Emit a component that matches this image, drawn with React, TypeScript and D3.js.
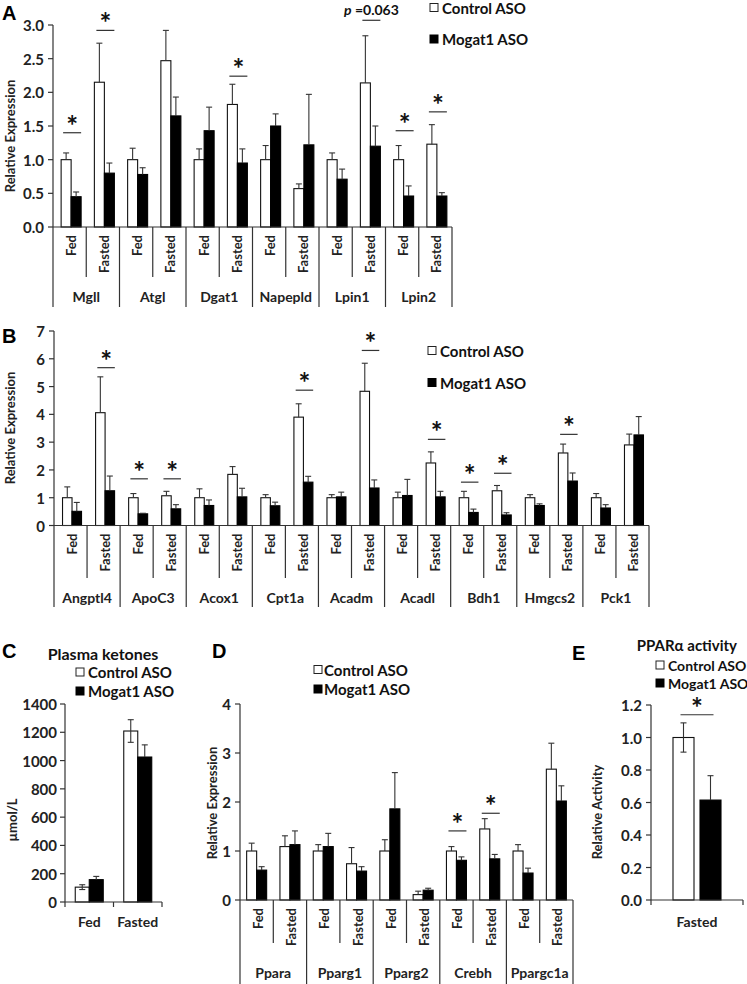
import React from "react";
import * as d3 from "d3";

const FONT = "Lato, 'Open Sans', sans-serif";
const LETTER_FONT = "'Liberation Sans', Arial, sans-serif";
const LINE = "#333";

const conditions = ["Fed", "Fasted"];
const seriesNames = ["Control ASO", "Mogat1 ASO"];

// ---------- Panel A ----------
const genesA = ["Mgll", "Atgl", "Dgat1", "Napepld", "Lpin1", "Lpin2"];
const controlA = [1.0, 2.15, 1.0, 2.47, 1.0, 1.82, 1.0, 0.57, 1.0, 2.14, 1.0, 1.23];
const controlSemA = [0.1, 0.58, 0.17, 0.45, 0.16, 0.3, 0.21, 0.07, 0.1, 0.7, 0.21, 0.29];
const mogatA = [0.45, 0.8, 0.78, 1.65, 1.43, 0.95, 1.5, 1.22, 0.71, 1.2, 0.46, 0.46];
const mogatSemA = [0.07, 0.15, 0.1, 0.28, 0.35, 0.21, 0.18, 0.75, 0.15, 0.3, 0.15, 0.05];
const sigIndexA = [0, 1, 5, 9, 10, 11];
const sigLevelA = [1.4, 2.92, 2.24, 3.07, 1.43, 1.71];
const sigLabelA = ["*", "*", "*", "p =0.063", "*", "*"];
const ticksA = [0, 0.5, 1, 1.5, 2, 2.5, 3];

// ---------- Panel B ----------
const genesB = ["Angptl4", "ApoC3", "Acox1", "Cpt1a", "Acadm", "Acadl", "Bdh1", "Hmgcs2", "Pck1"];
const controlB = [1.0, 4.06, 1.0, 1.07, 1.0, 1.84, 1.0, 3.9, 1.0, 4.83, 1.0, 2.25, 1.0, 1.25, 1.0, 2.61, 1.0, 2.9];
const controlSemB = [0.39, 1.29, 0.15, 0.16, 0.32, 0.28, 0.11, 0.48, 0.11, 1.01, 0.2, 0.4, 0.23, 0.19, 0.11, 0.32, 0.15, 0.39];
const mogatB = [0.51, 1.25, 0.42, 0.6, 0.72, 1.03, 0.71, 1.56, 1.03, 1.35, 1.08, 1.03, 0.47, 0.38, 0.72, 1.6, 0.63, 3.26];
const mogatSemB = [0.32, 0.53, 0.02, 0.15, 0.2, 0.31, 0.13, 0.21, 0.17, 0.29, 0.58, 0.2, 0.12, 0.08, 0.06, 0.29, 0.12, 0.66];
const sigIndexB = [1, 2, 3, 7, 9, 11, 12, 13, 15];
const sigLevelB = [5.68, 1.68, 1.68, 4.87, 6.3, 3.1, 1.56, 1.88, 3.28];
const sigLabelB = ["*", "*", "*", "*", "*", "*", "*", "*", "*"];
const ticksB = [0, 1, 2, 3, 4, 5, 6, 7];

// ---------- Panel C ----------
const conditionsC = ["Fed", "Fasted"];
const controlC = [105, 1209];
const controlSemC = [17, 80];
const mogatC = [158, 1025];
const mogatSemC = [23, 86];
const ticksC = [0, 200, 400, 600, 800, 1000, 1200, 1400];

// ---------- Panel D ----------
const genesD = ["Ppara", "Pparg1", "Pparg2", "Crebh", "Ppargc1a"];
const controlD = [1.0, 1.09, 1.0, 0.74, 1.0, 0.11, 1.0, 1.45, 1.0, 2.67];
const controlSemD = [0.16, 0.22, 0.13, 0.33, 0.23, 0.07, 0.09, 0.21, 0.13, 0.53];
const mogatD = [0.61, 1.13, 1.09, 0.59, 1.86, 0.2, 0.81, 0.84, 0.55, 2.02];
const mogatSemD = [0.07, 0.28, 0.27, 0.09, 0.74, 0.04, 0.07, 0.09, 0.1, 0.31];
const sigIndexD = [6, 7];
const sigLevelD = [1.41, 1.77];
const sigLabelD = ["*", "*"];
const ticksD = [0, 1, 2, 3, 4];

// ---------- Panel E ----------
const conditionsE = ["Fasted"];
const controlE = [1.0];
const controlSemE = [0.09];
const mogatE = [0.615];
const mogatSemE = [0.15];
const sigLevelE = [1.14];
const ticksE = [0, 0.2, 0.4, 0.6, 0.8, 1.0, 1.2];

const TICK_FS = 15;

function ErrBar({ cx, y0, y1, cap = 3 }: { cx: number; y0: number; y1: number; cap?: number }) {
  return (
    <g stroke={LINE} strokeWidth={1.1}>
      <line x1={cx} x2={cx} y1={y0} y2={y1} />
      <line x1={cx - cap} x2={cx + cap} y1={y1} y2={y1} />
    </g>
  );
}

function Sig({ x1, x2, y, label }: { x1: number; x2: number; y: number; label: string }) {
  const mx = (x1 + x2) / 2;
  return (
    <g>
      <line x1={x1} x2={x2} y1={y} y2={y} stroke={LINE} strokeWidth={1.2} />
      {label === "*" ? (
        <text x={mx} y={y + 3} textAnchor="middle" fontSize={28} fontWeight={700} fontFamily={FONT} fill="#111">
          *
        </text>
      ) : (
        <text x={mx} y={y - 11} textAnchor="middle" dominantBaseline="central" fontSize={14} fontWeight={700} fontFamily={FONT} fill="#111">
          <tspan fontStyle="italic">{label.split(" ")[0]}</tspan>
          <tspan>{" " + label.split(" ").slice(1).join(" ")}</tspan>
        </text>
      )}
    </g>
  );
}

function Legend({ x, y1, y2, fontSize = 15, gap = 4 }: { x: number; y1: number; y2: number; fontSize?: number; gap?: number }) {
  const s = 8;
  return (
    <g fontFamily={FONT} fontWeight={700} fontSize={fontSize} fill="#111">
      <rect x={x} y={y1 - s / 2} width={s} height={s} fill="#fff" stroke="#222" strokeWidth={1} />
      <text x={x + s + gap} y={y1} dominantBaseline="central">{seriesNames[0]}</text>
      <rect x={x} y={y2 - s / 2} width={s} height={s} fill="#000" stroke="#000" strokeWidth={1} />
      <text x={x + s + gap} y={y2} dominantBaseline="central">{seriesNames[1]}</text>
    </g>
  );
}

type NestedProps = {
  genes: string[];
  control: number[];
  controlSem: number[];
  mogat: number[];
  mogatSem: number[];
  sigIndex: number[];
  sigLevel: number[];
  sigLabel: string[];
  ticks: number[];
  tickFmt: (v: number) => string;
  x0: number;
  x1: number;
  yTop: number;
  yZero: number;
  condBottom: number;
  geneBottom: number;
  geneLabelY: number;
  barW: number;
  shift: number;
  ylabelX: number;
  ylabelY: number;
};

function NestedPanel(p: NestedProps) {
  const n = p.genes.length * conditions.length;
  const x = d3.scaleBand<number>().domain(d3.range(n)).range([p.x0, p.x1]);
  const y = d3.scaleLinear().domain([0, p.ticks[p.ticks.length - 1]]).range([p.yZero, p.yTop]);
  const bw = x.bandwidth();
  const cx = (i: number) => (x(i) as number) + bw / 2 + p.shift;
  return (
    <g>
      <line x1={p.x0} x2={p.x0} y1={p.yZero} y2={p.yTop} stroke={LINE} strokeWidth={1.2} />
      {p.ticks.map((t) => (
        <g key={t}>
          <line x1={p.x0 - 5} x2={p.x0} y1={y(t)} y2={y(t)} stroke={LINE} strokeWidth={1.2} />
          <text x={p.x0 - 9} y={y(t)} textAnchor="end" dominantBaseline="central" fontFamily={FONT} fontWeight={700} fontSize={TICK_FS} fill="#222">
            {p.tickFmt(t)}
          </text>
        </g>
      ))}
      <text transform={`translate(${p.ylabelX},${p.ylabelY}) rotate(-90)`} textAnchor="middle" dominantBaseline="central" fontFamily={FONT} fontWeight={700} fontSize={13} fill="#222">
        Relative Expression
      </text>
      {d3.range(n).map((i) => {
        const c = cx(i);
        const wc = c - p.barW / 2;
        const bc = c + p.barW / 2;
        return (
          <g key={i}>
            <rect x={c - p.barW} y={y(p.control[i])} width={p.barW} height={p.yZero - y(p.control[i])} fill="#fff" stroke="#111" strokeWidth={1.1} />
            <ErrBar cx={wc} y0={y(p.control[i])} y1={y(p.control[i] + p.controlSem[i])} />
            <rect x={c} y={y(p.mogat[i])} width={p.barW} height={p.yZero - y(p.mogat[i])} fill="#000" stroke="#000" strokeWidth={1.1} />
            <ErrBar cx={bc} y0={y(p.mogat[i])} y1={y(p.mogat[i] + p.mogatSem[i])} />
          </g>
        );
      })}
      <line x1={p.x0} x2={p.x1} y1={p.yZero} y2={p.yZero} stroke={LINE} strokeWidth={1.2} />
      {d3.range(n + 1).map((k) => {
        const xx = k < n ? (x(k) as number) : p.x1;
        const isGene = k % 2 === 0;
        return <line key={k} x1={xx} x2={xx} y1={p.yZero} y2={isGene ? p.geneBottom : p.condBottom} stroke={LINE} strokeWidth={1.2} />;
      })}
      {d3.range(n).map((i) => (
        <text key={i} transform={`translate(${(x(i) as number) + bw / 2 + 1},${p.yZero + 8}) rotate(-90)`} textAnchor="end" dominantBaseline="central" fontFamily={FONT} fontWeight={700} fontSize={13} fill="#222">
          {conditions[i % 2]}
        </text>
      ))}
      {p.genes.map((g, j) => (
        <text key={g} x={(x(2 * j) as number) + bw} y={p.geneLabelY} textAnchor="middle" dominantBaseline="central" fontFamily={FONT} fontWeight={700} fontSize={14} fill="#222">
          {g}
        </text>
      ))}
      {p.sigIndex.map((i, k) => {
        const c = cx(i);
        return <Sig key={i} x1={c - p.barW / 2 - 3} x2={c + p.barW / 2 + 5} y={y(p.sigLevel[k])} label={p.sigLabel[k]} />;
      })}
    </g>
  );
}

function PanelC() {
  const x0 = 65, x1 = 162, yZero = 902, yTop = 704, barW = 14;
  const x = d3.scaleBand<string>().domain(conditionsC).range([x0, x1]);
  const y = d3.scaleLinear().domain([0, 1400]).range([yZero, yTop]);
  const bw = x.bandwidth();
  return (
    <g>
      <line x1={x0} x2={x0} y1={yZero} y2={yTop} stroke={LINE} strokeWidth={1.2} />
      {ticksC.map((t) => (
        <g key={t}>
          <line x1={x0 - 5} x2={x0} y1={y(t)} y2={y(t)} stroke={LINE} strokeWidth={1.2} />
          <text x={x0 - 8} y={y(t)} textAnchor="end" dominantBaseline="central" fontFamily={FONT} fontWeight={700} fontSize={TICK_FS} fill="#222">
            {t}
          </text>
        </g>
      ))}
      <text transform={`translate(12,820) rotate(-90)`} textAnchor="middle" dominantBaseline="central" fontFamily={FONT} fontWeight={700} fontSize={13} fill="#222">
        µmol/L
      </text>
      {conditionsC.map((cName, i) => {
        const c = (x(cName) as number) + bw / 2;
        return (
          <g key={cName}>
            <rect x={c - barW} y={y(controlC[i])} width={barW} height={yZero - y(controlC[i])} fill="#fff" stroke="#111" strokeWidth={1.1} />
            <ErrBar cx={c - barW / 2} y0={y(controlC[i])} y1={y(controlC[i] + controlSemC[i])} />
            <ErrBar cx={c - barW / 2} y0={y(controlC[i])} y1={y(controlC[i] - controlSemC[i])} />
            <rect x={c} y={y(mogatC[i])} width={barW} height={yZero - y(mogatC[i])} fill="#000" stroke="#000" strokeWidth={1.1} />
            <ErrBar cx={c + barW / 2} y0={y(mogatC[i])} y1={y(mogatC[i] + mogatSemC[i])} />
            <text x={c} y={921} textAnchor="middle" dominantBaseline="central" fontFamily={FONT} fontWeight={700} fontSize={14} fill="#222">
              {cName}
            </text>
          </g>
        );
      })}
      <line x1={x0} x2={x1} y1={yZero} y2={yZero} stroke={LINE} strokeWidth={1.2} />
      {[x0, ...conditionsC.map((cName) => (x(cName) as number) + bw)].map((xx, k) => (
        <line key={k} x1={xx} x2={xx} y1={yZero} y2={yZero + 5} stroke={LINE} strokeWidth={1.2} />
      ))}
      <text x={103} y={653} textAnchor="middle" dominantBaseline="central" fontFamily={FONT} fontWeight={700} fontSize={16} fill="#111">
        Plasma ketones
      </text>
      <Legend x={76} y1={672} y2={691} />
    </g>
  );
}

function PanelE() {
  const x0 = 651, x1 = 743, yZero = 900, yTop = 705, barW = 21;
  const x = d3.scaleBand<string>().domain(conditionsE).range([x0, x1]);
  const y = d3.scaleLinear().domain([0, 1.2]).range([yZero, yTop]);
  const bw = x.bandwidth();
  const fmt = d3.format(".1f");
  return (
    <g>
      <line x1={x0} x2={x0} y1={yZero} y2={yTop} stroke={LINE} strokeWidth={1.2} />
      {ticksE.map((t) => (
        <g key={t}>
          <line x1={x0 - 5} x2={x0} y1={y(t)} y2={y(t)} stroke={LINE} strokeWidth={1.2} />
          <text x={x0 - 9} y={y(t)} textAnchor="end" dominantBaseline="central" fontFamily={FONT} fontWeight={700} fontSize={TICK_FS} fill="#222">
            {fmt(t)}
          </text>
        </g>
      ))}
      <text transform={`translate(597,812) rotate(-90)`} textAnchor="middle" dominantBaseline="central" fontFamily={FONT} fontWeight={700} fontSize={13} fill="#222">
        Relative Activity
      </text>
      {conditionsE.map((cName, i) => {
        const c = (x(cName) as number) + bw / 2;
        const wx = c - 3 - barW;
        const bx = c + 3;
        return (
          <g key={cName}>
            <rect x={wx} y={y(controlE[i])} width={barW} height={yZero - y(controlE[i])} fill="#fff" stroke="#111" strokeWidth={1.1} />
            <ErrBar cx={wx + barW / 2} y0={y(controlE[i])} y1={y(controlE[i] + controlSemE[i])} />
            <ErrBar cx={wx + barW / 2} y0={y(controlE[i])} y1={y(controlE[i] - controlSemE[i])} />
            <rect x={bx} y={y(mogatE[i])} width={barW} height={yZero - y(mogatE[i])} fill="#000" stroke="#000" strokeWidth={1.1} />
            <ErrBar cx={bx + barW / 2} y0={y(mogatE[i])} y1={y(mogatE[i] + mogatSemE[i])} />
            <Sig x1={wx + barW / 2 - 3} x2={bx + barW / 2 + 3} y={y(sigLevelE[i])} label="*" />
            <text x={c} y={921} textAnchor="middle" dominantBaseline="central" fontFamily={FONT} fontWeight={700} fontSize={14} fill="#222">
              {cName}
            </text>
          </g>
        );
      })}
      <line x1={x0} x2={x1} y1={yZero} y2={yZero} stroke={LINE} strokeWidth={1.2} />
      {[x0, x1].map((xx, k) => (
        <line key={k} x1={xx} x2={xx} y1={yZero} y2={yZero + 5} stroke={LINE} strokeWidth={1.2} />
      ))}
      <text x={737} y={645} textAnchor="end" dominantBaseline="central" fontFamily={FONT} fontWeight={700} fontSize={15} fill="#111">
        PPARα activity
      </text>
      <Legend x={656} y1={665} y2={683} fontSize={14} />
    </g>
  );
}

export default function App() {
  const f1 = d3.format(".1f");
  const f0 = d3.format("d");
  return (
    <svg width={747} height={984} viewBox="0 0 747 984" style={{ position: "absolute", left: 0, top: 0, background: "#fff" }}>
      <rect x={0} y={0} width={747} height={984} fill="#fff" />
      <g fontFamily={LETTER_FONT} fontWeight={700} fontSize={20} fill="#000">
        <text x={2} y={20}>A</text>
        <text x={2} y={343}>B</text>
        <text x={2} y={658}>C</text>
        <text x={212} y={658}>D</text>
        <text x={572} y={660}>E</text>
      </g>
      <NestedPanel
        genes={genesA} control={controlA} controlSem={controlSemA} mogat={mogatA} mogatSem={mogatSemA}
        sigIndex={sigIndexA} sigLevel={sigLevelA} sigLabel={sigLabelA} ticks={ticksA} tickFmt={f1}
        x0={53} x1={452} yTop={25} yZero={227} condBottom={277} geneBottom={307} geneLabelY={296}
        barW={10} shift={1.5} ylabelX={10} ylabelY={136}
      />
      <Legend x={430} y1={7.5} y2={39} />
      <NestedPanel
        genes={genesB} control={controlB} controlSem={controlSemB} mogat={mogatB} mogatSem={mogatSemB}
        sigIndex={sigIndexB} sigLevel={sigLevelB} sigLabel={sigLabelB} ticks={ticksB} tickFmt={f0}
        x0={54} x1={649} yTop={331} yZero={525.5} condBottom={578} geneBottom={607} geneLabelY={597}
        barW={9.5} shift={1.5} ylabelX={10} ylabelY={428}
      />
      <Legend x={428} y1={350.5} y2={382.5} />
      <PanelC />
      <NestedPanel
        genes={genesD} control={controlD} controlSem={controlSemD} mogat={mogatD} mogatSem={mogatSemD}
        sigIndex={sigIndexD} sigLevel={sigLevelD} sigLabel={sigLabelD} ticks={ticksD} tickFmt={f0}
        x0={240} x1={573} yTop={704} yZero={900} condBottom={943} geneBottom={984} geneLabelY={972}
        barW={10} shift={0} ylabelX={212} ylabelY={803}
      />
      <Legend x={314} y1={669.5} y2={689} fontSize={15} gap={2} />
      <PanelE />
    </svg>
  );
}
